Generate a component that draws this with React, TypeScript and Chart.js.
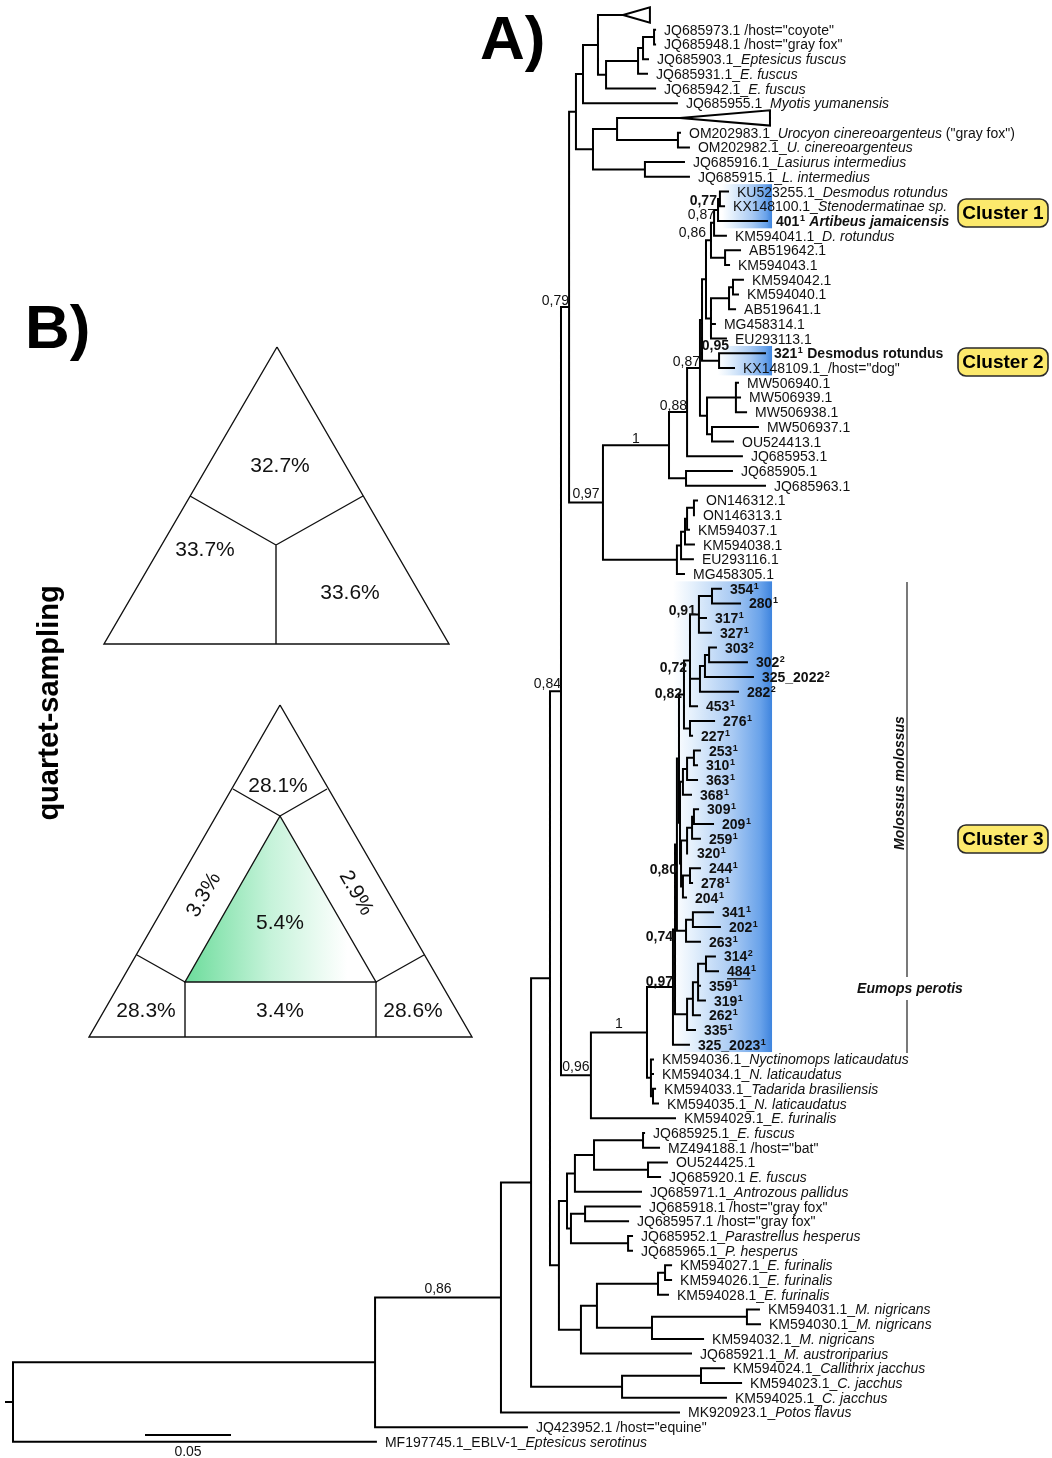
import React, { useEffect, useRef } from 'react';
import { Chart, registerables } from 'chart.js';

Chart.register(...registerables);

const FONT = '"Liberation Sans", Arial, Helvetica, sans-serif';
const W = 1052;
const H = 1458;

// ---------------- tree: internal nodes (depth in substitutions/site) ----------------
const nodeName = [
  'root', 'N375', 'N501', 'N531', 'N550', 'N084', 'X079', 'T1', 'T2', 'T4',
  'T5', 'T6', 'T6b', 'T7', 'T3', 'U0', 'U', 'L', 'N097a', 'N1a',
  'N088', 'N087b', 'Q', 'R', 'P', 'K3', 'K2', 'K1', 'AB', 'G3',
  'G2', 'G1', 'N095', 'M', 'MW', 'O', 'J', 'K4', 'K3b', 'K2b',
  'K1b', 'ON', 'N096', 'N1b', 'C97', 'A74', 'A80', 'A82c', 'N082', 'N072',
  'c2', 'c1', 'p3', 'p2', 'p1', 'q1', 'B1', 'r3', 'r2', 'r1',
  'u1', 's3', 's2', 's1', 't2', 't1', 'v2', 'v1', 'w4', 'w3',
  'w2', 'w1', 'n0', 'n1', 'S', 'S567', 'S575', 'S594', 'S643', 'S648',
  'S571', 'S585', 'S628', 'S581', 'S597', 'F658', 'F665', 'Ng652', 'Ng747', 'C622', 'C701',
];
const nodeParent = [
  '', 'root', 'N375', 'N501', 'N531', 'N550', 'N084', 'X079', 'T1', 'T2',
  'T4', 'T5', 'T6', 'T6b', 'T1', 'T3', 'U0', 'T3', 'X079', 'N097a',
  'N1a', 'N088', 'N087b', 'Q', 'R', 'P', 'K3', 'K2', 'P', 'R',
  'G3', 'G2', 'Q', 'N087b', 'M', 'M', 'N1a', 'N097a', 'K4', 'K3b',
  'K2b', 'K1b', 'N084', 'N096', 'N1b', 'C97', 'A74', 'A80', 'A82c', 'N082',
  'N072', 'c2', 'N072', 'p3', 'p2', 'N082', 'A82c', 'B1', 'r3', 'r2',
  'B1', 'u1', 's3', 's2', 'u1', 't2', 'A80', 'v2', 'A74', 'w4',
  'w3', 'w2', 'N1b', 'n0', 'N550', 'S', 'S567', 'S575', 'S594', 'S594',
  'S567', 'S571', 'S571', 'S', 'S581', 'S597', 'F658', 'S597', 'Ng652', 'N531', 'C622',
];
const nodeDepth = [
  0, 0.2105, 0.2837, 0.3012, 0.3122, 0.3186, 0.3233, 0.3273, 0.3314, 0.3401,
  0.3448, 0.3634, 0.3663, 0.3727, 0.3372, 0.3512, 0.3866, 0.3674, 0.3430, 0.3814,
  0.3919, 0.3994, 0.4006, 0.4029, 0.4058, 0.4076, 0.4099, 0.4110, 0.4140, 0.4058,
  0.4163, 0.4186, 0.4105, 0.4035, 0.4203, 0.4064, 0.3913, 0.3860, 0.3884, 0.3907,
  0.3919, 0.3959, 0.3360, 0.3686, 0.3837, 0.3849, 0.3860, 0.3872, 0.3901, 0.3936,
  0.3988, 0.4064, 0.3994, 0.4023, 0.4047, 0.3936, 0.3878, 0.3895, 0.3919, 0.3959,
  0.3884, 0.3919, 0.3948, 0.3959, 0.3895, 0.3936, 0.3913, 0.3953, 0.3919, 0.3953,
  0.3983, 0.4029, 0.3709, 0.3721, 0.3174, 0.3221, 0.3267, 0.3378, 0.3663, 0.3692,
  0.3244, 0.3326, 0.3576, 0.3302, 0.3395, 0.3750, 0.3791, 0.3715, 0.4267, 0.3541, 0.4000,
];

// support values
const supportNodes = ['N501', 'N084', 'X079', 'N097a', 'N1a', 'N088', 'N087b', 'K3', 'K2', 'K1', 'N095', 'N096', 'N1b', 'C97', 'A74', 'A80', 'N082', 'N072', 'c2'];
const supportValues = ['0,86', '0,84', '0,79', '0,97', '1', '0,88', '0,87', '0,86', '0,87', '0,77', '0,95', '0,96', '1', '0,97', '0,74', '0,80', '0,82', '0,72', '0,91'];
const supportBold = [false, false, false, false, false, false, false, false, false, true, true, false, false, true, true, true, true, true, true];
// label placement nudges (px)
const supportDx = [0, 0, 0, 0, 0, 0, 0, -8, -3, -3, 10, 0, 0, 0, -2, 0, -2, -3, -3];
const supportDy = [0, 1, 2, 0, 2, 2, 2, 18, 13, 10, -7, 0, 0, 3, 16, 33, 8, 16, 5];

// ---------------- tree: leaves (one per row, top to bottom) ----------------
// markup: '!' bold label, '*' toggles italic, '^' superscript next char, '~' toggles underline
const leafLabel = [
  '', 'JQ685973.1 /host="coyote"', 'JQ685948.1 /host="gray fox"', 'JQ685903.1_*Eptesicus fuscus*', 'JQ685931.1_*E. fuscus*',
  'JQ685942.1_*E. fuscus*', 'JQ685955.1_*Myotis yumanensis*', '', 'OM202983.1_*Urocyon cinereoargenteus* ("gray fox")', 'OM202982.1_*U. cinereoargenteus*',
  'JQ685916.1_*Lasiurus intermedius*', 'JQ685915.1_*L. intermedius*', 'KU523255.1_*Desmodus rotundus*', 'KX148100.1_*Stenodermatinae sp.*', '!401^1 *Artibeus jamaicensis*',
  'KM594041.1_*D. rotundus*', 'AB519642.1', 'KM594043.1', 'KM594042.1', 'KM594040.1',
  'AB519641.1', 'MG458314.1', 'EU293113.1', '!321^1 Desmodus rotundus', 'KX148109.1_/host="dog"',
  'MW506940.1', 'MW506939.1', 'MW506938.1', 'MW506937.1', 'OU524413.1',
  'JQ685953.1', 'JQ685905.1', 'JQ685963.1', 'ON146312.1', 'ON146313.1',
  'KM594037.1', 'KM594038.1', 'EU293116.1', 'MG458305.1', '!354^1',
  '!280^1', '!317^1', '!327^1', '!303^2', '!302^2',
  '!325_2022^2', '!282^2', '!453^1', '!276^1', '!227^1',
  '!253^1', '!310^1', '!363^1', '!368^1', '!309^1',
  '!209^1', '!259^1', '!320^1', '!244^1', '!278^1',
  '!204^1', '!341^1', '!202^1', '!263^1', '!314^2',
  '!~484~^1', '!359^1', '!319^1', '!262^1', '!335^1',
  '!325_2023^1', 'KM594036.1_*Nyctinomops laticaudatus*', 'KM594034.1_*N. laticaudatus*', 'KM594033.1_*Tadarida brasiliensis*', 'KM594035.1_*N. laticaudatus*',
  'KM594029.1_*E. furinalis*', 'JQ685925.1_*E. fuscus*', 'MZ494188.1 /host="bat"', 'OU524425.1', 'JQ685920.1 *E. fuscus*',
  'JQ685971.1_*Antrozous pallidus*', 'JQ685918.1 /host="gray fox"', 'JQ685957.1 /host="gray fox"', 'JQ685952.1_*Parastrellus hesperus*', 'JQ685965.1_*P. hesperus*',
  'KM594027.1_*E. furinalis*', 'KM594026.1_*E. furinalis*', 'KM594028.1_*E. furinalis*', 'KM594031.1_*M. nigricans*', 'KM594030.1_*M. nigricans*',
  'KM594032.1_*M. nigricans*', 'JQ685921.1_*M. austroriparius*', 'KM594024.1_*Callithrix jacchus*', 'KM594023.1_*C. jacchus*', 'KM594025.1_*C. jacchus*',
  'MK920923.1_*Potos flavus*', 'JQ423952.1 /host="equine"', 'MF197745.1_EBLV-1_*Eptesicus serotinus*',
];
const leafParent = [
  'T4', 'T7', 'T7', 'T6b', 'T6', 'T5', 'T2', 'U0', 'U', 'U',
  'L', 'L', 'K1', 'K1', 'K2', 'K3', 'AB', 'AB', 'G1', 'G1',
  'G2', 'G3', 'G3', 'N095', 'N095', 'MW', 'MW', 'MW', 'O', 'O',
  'N088', 'J', 'J', 'ON', 'ON', 'K1b', 'K2b', 'K3b', 'K4', 'c1',
  'c1', 'c2', 'c2', 'p1', 'p1', 'p2', 'p3', 'N072', 'q1', 'q1',
  'r1', 'r1', 'r2', 'r3', 's1', 's1', 's2', 's3', 't1', 't1',
  't2', 'v1', 'v1', 'v2', 'w1', 'w1', 'w2', 'w2', 'w3', 'w4',
  'C97', 'n0', 'n0', 'n1', 'n1', 'N096', 'S643', 'S643', 'S648', 'S648',
  'S575', 'S585', 'S585', 'S628', 'S628', 'F665', 'F665', 'F658', 'Ng747', 'Ng747',
  'Ng652', 'S581', 'C701', 'C701', 'C622', 'N501', 'N375', 'root',
];
const leafDepth = [
  0.3547, 0.3733, 0.3733, 0.3692, 0.3686, 0.3733, 0.3860, 0.3878, 0.3878, 0.3930,
  0.3901, 0.3930, 0.4157, 0.4134, 0.4384, 0.4145, 0.4227, 0.4163, 0.4244, 0.4215,
  0.4198, 0.4081, 0.4145, 0.4372, 0.4192, 0.4215, 0.4227, 0.4262, 0.4331, 0.4186,
  0.4238, 0.4180, 0.4372, 0.3977, 0.3959, 0.3930, 0.3959, 0.3953, 0.3901, 0.4116,
  0.4227, 0.4029, 0.4058, 0.4087, 0.4267, 0.4302, 0.4215, 0.3977, 0.4076, 0.3948,
  0.3994, 0.3977, 0.3977, 0.3942, 0.3983, 0.4070, 0.3994, 0.3924, 0.3994, 0.3948,
  0.3913, 0.4070, 0.4110, 0.3994, 0.4081, 0.4099, 0.3994, 0.4023, 0.3994, 0.3965,
  0.3930, 0.3721, 0.3721, 0.3733, 0.3750, 0.3849, 0.3669, 0.3756, 0.3802, 0.3762,
  0.3651, 0.3645, 0.3576, 0.3599, 0.3599, 0.3826, 0.3826, 0.3808, 0.4337, 0.4343,
  0.4012, 0.3942, 0.4134, 0.4233, 0.4145, 0.3872, 0.2988, 0.2110,
];

// collapsed clades (drawn as triangles)
const collapsedRows = [0, 7];
const collapsedEndDepth = [0.3703, 0.4401];

// highlighted clusters
const clusterNames = ['Cluster 1', 'Cluster 2', 'Cluster 3'];
const clusterFirstRow = [12, 23, 39];
const clusterLastRow = [14, 24, 70];
const clusterStartDepth = [0.4122, 0.4099, 0.3837];
const clusterEndDepth = 0.4413;

const scaleBarLength = 0.05;

// quartet sampling results
const quartetSimple = [32.7, 33.7, 33.6];
const quartetFull = [28.1, 28.3, 28.6, 3.3, 2.9, 3.4, 5.4];

// ---------------- layout (pixels) ----------------
const ROW0 = 15;
const ROWSTEP = 14.71;
const ORIGIN_X = 13;
const PX_PER_UNIT = 1720;

function buildTree() {
  const idx = new Map<string, number>();
  nodeName.forEach((n, i) => idx.set(n, i));
  const kids: { leaf: boolean; i: number }[][] = nodeName.map(() => []);
  nodeParent.forEach((p, i) => {
    if (p) kids[idx.get(p)!].push({ leaf: false, i });
  });
  leafParent.forEach((p, r) => kids[idx.get(p)!].push({ leaf: true, i: r }));
  const ny: number[] = nodeName.map(() => NaN);
  const lo: number[] = nodeName.map(() => NaN);
  const hi: number[] = nodeName.map(() => NaN);
  const calc = (i: number): number => {
    if (!isNaN(ny[i])) return ny[i];
    let mn = Infinity;
    let mx = -Infinity;
    for (const k of kids[i]) {
      const y = k.leaf ? k.i : calc(k.i);
      mn = Math.min(mn, y);
      mx = Math.max(mx, y);
    }
    lo[i] = mn;
    hi[i] = mx;
    ny[i] = (mn + mx) / 2;
    return ny[i];
  };
  nodeName.forEach((_, i) => calc(i));
  return { idx, ny, lo, hi };
}

function drawRich(ctx: CanvasRenderingContext2D, x0: number, y: number, src: string) {
  let s = src;
  let bold = false;
  if (s[0] === '!') {
    bold = true;
    s = s.slice(1);
  }
  let italic = false;
  let underline = false;
  let x = x0;
  let buf = '';
  const flush = () => {
    if (!buf) return;
    ctx.font = `${italic ? 'italic ' : ''}${bold ? 'bold ' : ''}14px ${FONT}`;
    ctx.fillText(buf, x, y);
    const w = ctx.measureText(buf).width;
    if (underline) ctx.fillRect(x, y + 2, w, 1.3);
    x += w;
    buf = '';
  };
  for (let i = 0; i < s.length; i++) {
    const ch = s[i];
    if (ch === '*') {
      flush();
      italic = !italic;
    } else if (ch === '~') {
      flush();
      underline = !underline;
    } else if (ch === '^') {
      flush();
      const sup = s[++i];
      ctx.font = `${bold ? 'bold ' : ''}9px ${FONT}`;
      ctx.fillText(sup, x + 0.5, y - 5);
      x += ctx.measureText(sup).width + 1;
    } else buf += ch;
  }
  flush();
}

export default function App() {
  const ref = useRef<HTMLCanvasElement | null>(null);

  useEffect(() => {
    const canvas = ref.current;
    if (!canvas) return;
    const { idx, ny, lo, hi } = buildTree();
    const gap = { x: null as any, y: null as any };
    const rootStub = -7 / PX_PER_UNIT;

    // branches
    const branches: any[] = [];
    nodeName.forEach((_, i) => {
      branches.push({ x: nodeDepth[i], y: lo[i] }, { x: nodeDepth[i], y: hi[i] }, gap);
      const pd = nodeParent[i] ? nodeDepth[idx.get(nodeParent[i])!] : rootStub;
      branches.push({ x: pd, y: ny[i] }, { x: nodeDepth[i], y: ny[i] }, gap);
    });
    leafParent.forEach((p, r) => {
      branches.push({ x: nodeDepth[idx.get(p)!], y: r }, { x: leafDepth[r], y: r }, gap);
    });

    const tris: any[] = [];
    collapsedRows.forEach((r, k) => {
      const a = leafDepth[r];
      const e = collapsedEndDepth[k];
      tris.push({ x: a, y: r }, { x: e, y: r - 0.52 }, { x: e, y: r + 0.52 }, { x: a, y: r }, gap);
    });

    const barStart = (145 - ORIGIN_X) / PX_PER_UNIT;
    const barRow = (1435 - ROW0) / ROWSTEP;
    const scaleBar = [{ x: barStart, y: barRow }, { x: barStart + scaleBarLength, y: barRow }];

    // panel B geometry (pixels)
    const A = { top: [277, 347], left: [104, 644], right: [449, 644], c: [276, 545] };
    const B = {
      top: [280, 705], left: [89, 1037], right: [472, 1037],
      it: [280, 816], il: [185, 982], ir: [376, 982],
    };
    const P = (p: number[]) => ({ x: p[0], y: p[1] });
    const panel: any[] = [
      P(A.top), P(A.left), P(A.right), P(A.top), gap,
      P(A.c), P([190, 496]), gap, P(A.c), P([363, 496]), gap, P(A.c), P([276, 644]), gap,
      P(B.top), P(B.left), P(B.right), P(B.top), gap,
      P(B.it), P(B.il), P(B.ir), P(B.it), gap,
      P(B.it), P([233, 789]), gap, P(B.it), P([327, 789]), gap,
      P(B.il), P([137, 955]), gap, P(B.il), P([185, 1037]), gap,
      P(B.ir), P([424, 955]), gap, P(B.ir), P([376, 1037]), gap,
    ];
    const bracket: any[] = [{ x: 907, y: 582 }, { x: 907, y: 977 }, gap, { x: 907, y: 1000 }, { x: 907, y: 1053 }];

    const annot = {
      id: 'annot',
      beforeDatasetsDraw(chart: any) {
        const ctx: CanvasRenderingContext2D = chart.ctx;
        const xs = chart.scales.x;
        const ys = chart.scales.y;
        const px = chart.scales.px;
        const py = chart.scales.py;
        ctx.save();
        clusterNames.forEach((_, k) => {
          const x1 = xs.getPixelForValue(clusterStartDepth[k]);
          const x2 = xs.getPixelForValue(clusterEndDepth);
          const y1 = ys.getPixelForValue(clusterFirstRow[k] - 0.5);
          const y2 = ys.getPixelForValue(clusterLastRow[k] + 0.5);
          const g = ctx.createLinearGradient(x1, 0, x2, 0);
          g.addColorStop(0, 'rgba(255,255,255,1)');
          g.addColorStop(0.2, '#e4f0fc');
          g.addColorStop(0.6, '#a9caf3');
          g.addColorStop(0.88, '#6aa3ea');
          g.addColorStop(1, '#3e84de');
          ctx.fillStyle = g;
          ctx.fillRect(x1, y1, x2 - x1, y2 - y1);
        });
        // green inner triangle
        const gx1 = px.getPixelForValue(B.il[0]);
        const gx2 = px.getPixelForValue(B.ir[0]);
        const gg = ctx.createLinearGradient(gx1, 0, gx2, 0);
        gg.addColorStop(0, '#6cdc9b');
        gg.addColorStop(0.45, '#c6f3da');
        gg.addColorStop(0.85, '#ffffff');
        ctx.fillStyle = gg;
        ctx.beginPath();
        ctx.moveTo(px.getPixelForValue(B.it[0]), py.getPixelForValue(B.it[1]));
        ctx.lineTo(px.getPixelForValue(B.il[0]), py.getPixelForValue(B.il[1]));
        ctx.lineTo(px.getPixelForValue(B.ir[0]), py.getPixelForValue(B.ir[1]));
        ctx.closePath();
        ctx.fill();
        ctx.restore();
      },
      afterDatasetsDraw(chart: any) {
        const ctx: CanvasRenderingContext2D = chart.ctx;
        const xs = chart.scales.x;
        const ys = chart.scales.y;
        const px = chart.scales.px;
        const py = chart.scales.py;
        ctx.save();
        ctx.fillStyle = '#111';
        ctx.textAlign = 'left';
        ctx.textBaseline = 'alphabetic';
        // leaf labels
        leafLabel.forEach((lab, r) => {
          if (!lab) return;
          drawRich(ctx, xs.getPixelForValue(leafDepth[r]) + 9, ys.getPixelForValue(r) + 5, lab);
        });
        // support values
        supportNodes.forEach((n, k) => {
          const i = idx.get(n)!;
          const nx = xs.getPixelForValue(nodeDepth[i]);
          const pxv = xs.getPixelForValue(nodeDepth[idx.get(nodeParent[i])!]);
          ctx.font = `${supportBold[k] ? 'bold ' : ''}14px ${FONT}`;
          const w = ctx.measureText(supportValues[k]).width;
          const right = Math.min((nx + pxv) / 2 + w / 2, nx);
          ctx.fillText(supportValues[k], right - w + supportDx[k], ys.getPixelForValue(ny[i]) - 4 + supportDy[k]);
        });
        // scale bar label
        ctx.font = `14px ${FONT}`;
        ctx.textAlign = 'center';
        ctx.fillText(String(scaleBarLength), xs.getPixelForValue(barStart + scaleBarLength / 2), ys.getPixelForValue(barRow) + 21);

        // panel letters
        ctx.textAlign = 'left';
        ctx.font = `bold 62px ${FONT}`;
        ctx.fillStyle = '#000';
        ctx.fillText('A)', px.getPixelForValue(480), py.getPixelForValue(59));
        ctx.fillText('B)', px.getPixelForValue(25), py.getPixelForValue(348));

        // quartet-sampling vertical title
        ctx.save();
        ctx.translate(px.getPixelForValue(58), py.getPixelForValue(703));
        ctx.rotate(-Math.PI / 2);
        ctx.textAlign = 'center';
        ctx.font = `bold 29px ${FONT}`;
        ctx.fillText('quartet-sampling', 0, 0);
        ctx.restore();

        // percentages
        ctx.font = `21px ${FONT}`;
        ctx.fillStyle = '#111';
        ctx.textAlign = 'center';
        ctx.textBaseline = 'middle';
        const pct = (v: number) => `${v}%`;
        const at = (v: number, x: number, y: number, rot = 0) => {
          ctx.save();
          ctx.translate(px.getPixelForValue(x), py.getPixelForValue(y));
          if (rot) ctx.rotate(rot);
          ctx.fillText(pct(v), 0, 0);
          ctx.restore();
        };
        at(quartetSimple[0], 280, 466);
        at(quartetSimple[1], 205, 550);
        at(quartetSimple[2], 350, 593);
        at(quartetFull[0], 278, 786);
        at(quartetFull[1], 146, 1011);
        at(quartetFull[2], 413, 1011);
        at(quartetFull[3], 204, 895, -Math.PI / 3);
        at(quartetFull[4], 356, 893, Math.PI / 3);
        at(quartetFull[5], 280, 1011);
        at(quartetFull[6], 280, 923);

        // cluster badges
        const badgeTop = [199, 348, 825];
        clusterNames.forEach((name, k) => {
          const bx = px.getPixelForValue(958);
          const by = py.getPixelForValue(badgeTop[k]);
          const bw = 90;
          const bh = 28;
          ctx.beginPath();
          (ctx as any).roundRect(bx, by, bw, bh, 8);
          ctx.fillStyle = '#fce96c';
          ctx.fill();
          ctx.lineWidth = 1.6;
          ctx.strokeStyle = '#2a2a2a';
          ctx.stroke();
          ctx.fillStyle = '#000';
          ctx.font = `bold 19px ${FONT}`;
          ctx.textAlign = 'center';
          ctx.textBaseline = 'middle';
          ctx.fillText(name, bx + bw / 2, by + bh / 2 + 1);
        });

        // species bracket text
        ctx.fillStyle = '#111';
        ctx.font = `italic bold 14px ${FONT}`;
        ctx.textAlign = 'center';
        ctx.textBaseline = 'alphabetic';
        ctx.fillText('Eumops perotis', px.getPixelForValue(910), py.getPixelForValue(993));
        ctx.save();
        ctx.translate(px.getPixelForValue(904), py.getPixelForValue(783));
        ctx.rotate(-Math.PI / 2);
        ctx.fillText('Molossus molossus', 0, 0);
        ctx.restore();
        ctx.restore();
      },
    };

    const line = (data: any[], extra: any = {}) => ({
      data,
      showLine: true,
      borderColor: '#000',
      borderWidth: 2,
      pointRadius: 0,
      pointHoverRadius: 0,
      pointHitRadius: 0,
      fill: false,
      spanGaps: false,
      tension: 0,
      xAxisID: 'x',
      yAxisID: 'y',
      ...extra,
    });

    const chart = new Chart(canvas, {
      type: 'scatter',
      data: {
        datasets: [
          line(branches, { borderCapStyle: 'square', borderJoinStyle: 'miter' }),
          line(tris, { borderJoinStyle: 'miter' }),
          line(scaleBar),
          line(panel, { xAxisID: 'px', yAxisID: 'py', borderWidth: 1.4, borderColor: '#111', borderJoinStyle: 'miter' }),
          line(bracket, { xAxisID: 'px', yAxisID: 'py', borderWidth: 1.3, borderColor: '#333' }),
        ] as any,
      },
      options: {
        animation: false,
        responsive: false,
        devicePixelRatio: 1,
        events: [],
        layout: { padding: 0 },
        plugins: { legend: { display: false }, tooltip: { enabled: false }, title: { display: false } },
        scales: {
          x: { type: 'linear', axis: 'x', position: 'bottom', display: false, min: -ORIGIN_X / PX_PER_UNIT, max: (W - ORIGIN_X) / PX_PER_UNIT },
          y: { type: 'linear', axis: 'y', position: 'left', display: false, reverse: true, min: -ROW0 / ROWSTEP, max: (H - ROW0) / ROWSTEP },
          px: { type: 'linear', axis: 'x', position: 'bottom', display: false, min: 0, max: W },
          py: { type: 'linear', axis: 'y', position: 'left', display: false, reverse: true, min: 0, max: H },
        } as any,
      },
      plugins: [annot],
    });
    return () => chart.destroy();
  }, []);

  return (
    <div style={{ position: 'absolute', left: 0, top: 0, width: W, height: H, background: '#fff' }}>
      <canvas ref={ref} width={W} height={H} style={{ display: 'block', width: W, height: H }} />
    </div>
  );
}
